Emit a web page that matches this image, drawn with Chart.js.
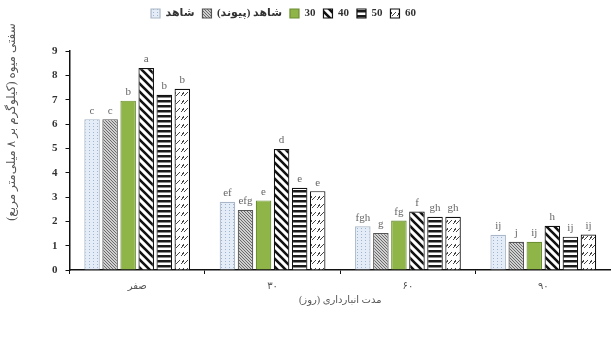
<!DOCTYPE html>
<html>
<head>
<meta charset="utf-8">
<script src="https://cdn.jsdelivr.net/npm/chart.js@4.4.0/dist/chart.umd.min.js"></script>
<style>
  html, body { margin: 0; padding: 0; background: #fff; }
  #wrap { width: 611px; height: 341px; }
</style>
</head>
<body>
<div id="wrap"><canvas id="firmChart" width="611" height="341"></canvas></div>
<script>
// storage days
const categories = ['صفر', '۳۰', '۶۰', '۹۰'];
const seriesNames = ['شاهد', 'شاهد (پیوند)', '30', '40', '50', '60'];

const control = [6.2, 2.8, 1.8, 1.45];
const graft = [6.2, 2.47, 1.52, 1.16];
const s30 = [6.96, 2.86, 2.03, 1.16];
const s40 = [8.3, 4.97, 2.4, 1.82];
const s50 = [7.2, 3.38, 2.19, 1.37];
const s60 = [7.45, 3.24, 2.19, 1.46];

// mean-comparison letters
const lettersControl = ['c', 'ef', 'fgh', 'ij'];
const lettersGraft = ['c', 'efg', 'g', 'j'];
const letters30 = ['b', 'e', 'fg', 'ij'];
const letters40 = ['a', 'd', 'f', 'h'];
const letters50 = ['b', 'e', 'gh', 'ij'];
const letters60 = ['b', 'e', 'gh', 'ij'];

const yTicks = [0, 1, 2, 3, 4, 5, 6, 7, 8, 9];
const yTitle = 'سفتی میوه (کیلوگرم بر ۸ میلی‌متر مربع)';

const FONT = "'Liberation Serif', 'DejaVu Sans', serif";

const makePattern = (w, h, bg, draw) => {
    const c = document.createElement('canvas');
    c.width = w; c.height = h;
    const g = c.getContext('2d');
    g.fillStyle = bg;
    g.fillRect(0, 0, w, h);
    draw(g);
    return g.createPattern(c, 'repeat');
};

const patDotted = makePattern(4, 3, '#e4edf7', g => {
    g.fillStyle = '#9fb4cf';
    g.fillRect(1, 0, 1, 1);
});
const patCheck = makePattern(3, 3, '#d0d0d0', g => {
    g.fillStyle = '#6b6b6b';
    g.fillRect(0, 0, 1, 1);
    g.fillRect(1, 1, 1, 1);
    g.fillRect(2, 2, 1, 1);
});
const patDiag = makePattern(8, 8, '#ffffff', g => {
    g.strokeStyle = '#111';
    g.lineWidth = 2.6;
    g.beginPath();
    g.moveTo(-2, -2); g.lineTo(10, 10);
    g.moveTo(-2, 6); g.lineTo(2, 10);
    g.moveTo(6, -2); g.lineTo(10, 2);
    g.stroke();
});
const patHoriz = makePattern(4, 5, '#ffffff', g => {
    g.fillStyle = '#1a1a1a';
    g.fillRect(0, 0, 4, 2.5);
});
const patDashed = makePattern(8, 8, '#ffffff', g => {
    g.strokeStyle = '#444';
    g.lineWidth = 1;
    g.beginPath();
    g.moveTo(0, 8); g.lineTo(4, 4);
    g.moveTo(8, 4); g.lineTo(6, 6);
    g.stroke();
    g.beginPath();
    g.moveTo(5, 8); g.lineTo(8, 5);
    g.stroke();
});

const datasets = [
    { label: seriesNames[0], data: control, letters: lettersControl, backgroundColor: patDotted, borderColor: '#a9b7c8' },
    { label: seriesNames[1], data: graft, letters: lettersGraft, backgroundColor: patCheck, borderColor: '#555' },
    { label: seriesNames[2], data: s30, letters: letters30, backgroundColor: '#8fb548', borderColor: '#6d8f33' },
    { label: seriesNames[3], data: s40, letters: letters40, backgroundColor: patDiag, borderColor: '#111' },
    { label: seriesNames[4], data: s50, letters: letters50, backgroundColor: patHoriz, borderColor: '#111' },
    { label: seriesNames[5], data: s60, letters: letters60, backgroundColor: patDashed, borderColor: '#111' }
].map(d => Object.assign(d, { borderWidth: 1.2, barPercentage: 0.86, categoryPercentage: 0.8 }));

// letters above each bar
const letterPlugin = {
    id: 'letters',
    afterDatasetsDraw(chart) {
        const ctx = chart.ctx;
        ctx.save();
        ctx.font = '11px ' + FONT;
        ctx.fillStyle = '#666';
        ctx.textAlign = 'center';
        ctx.textBaseline = 'bottom';
        chart.data.datasets.forEach((ds, i) => {
            chart.getDatasetMeta(i).data.forEach((bar, j) => {
                ctx.fillText(ds.letters[j], bar.x, bar.y - 3);
            });
        });
        ctx.restore();
    }
};

// extra room under the legend, legend pulled a bit left
const legendSpace = {
    id: 'legendSpace',
    beforeInit(chart) {
        const fit = chart.legend.fit;
        chart.legend.fit = function () {
            fit.bind(chart.legend)();
            this.height += 22;
        };
    },
    afterLayout(chart) {
        chart.legend.left -= 44;
        chart.legend.right -= 44;
    }
};

// y title sits higher than the plot centre in the original
const yTitlePlugin = {
    id: 'yTitle',
    afterDraw(chart) {
        const ctx = chart.ctx;
        ctx.save();
        ctx.translate(12, 122);
        ctx.rotate(-Math.PI / 2);
        ctx.font = '12px ' + FONT;
        ctx.fillStyle = '#555';
        ctx.textAlign = 'center';
        ctx.textBaseline = 'middle';
        ctx.fillText(yTitle, 0, 0);
        ctx.restore();
    }
};

new Chart(document.getElementById('firmChart'), {
    type: 'bar',
    data: { labels: categories, datasets: datasets },
    plugins: [letterPlugin, legendSpace, yTitlePlugin],
    options: {
        responsive: false,
        animation: false,
        layout: { padding: { left: 44, right: 0, top: 0, bottom: 35 } },
        plugins: {
            legend: {
                position: 'top',
                labels: {
                    boxWidth: 9,
                    boxHeight: 9,
                    padding: 8,
                    color: '#333',
                    font: { family: FONT, size: 11, weight: 'bold' }
                }
            },
            tooltip: { enabled: false }
        },
        scales: {
            x: {
                grid: { drawOnChartArea: false, color: '#111', tickLength: 4, offset: true },
                border: { color: '#111', width: 1.5 },
                ticks: { color: '#555', padding: 6, font: { family: FONT, size: 10 } },
                title: {
                    display: true,
                    text: 'مدت انبارداری (روز)',
                    color: '#555',
                    padding: { top: -4, bottom: 0 },
                    font: { family: FONT, size: 10 }
                }
            },
            y: {
                min: 0,
                max: 9,
                afterBuildTicks: axis => { axis.ticks = yTicks.map(v => ({ value: v })); },
                grid: { drawOnChartArea: false, color: '#111', tickLength: 4 },
                border: { color: '#111', width: 1.5 },
                ticks: { color: '#333', padding: 8, font: { family: FONT, size: 11, weight: 'bold' } }
            }
        }
    }
});
</script>
</body>
</html>
